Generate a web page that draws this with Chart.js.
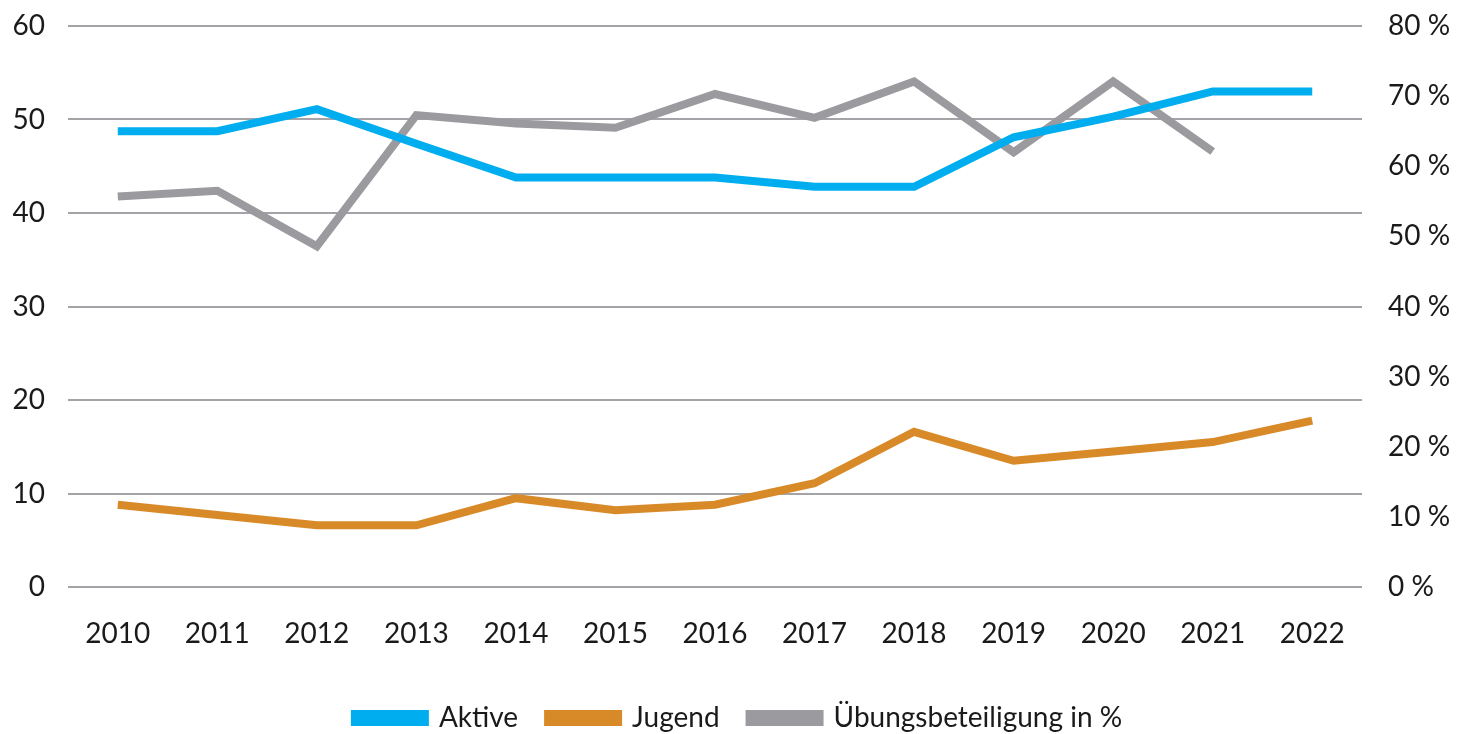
<!DOCTYPE html>
<html lang="de">
<head>
  <meta charset="UTF-8">
  <title>Aktive, Jugend, Übungsbeteiligung</title>
  <style>
    html, body { margin: 0; padding: 0; background: #fff; }
    #wrap { width: 1477px; height: 734px; position: relative; }
  </style>
</head>
<body>
  <div id="wrap"><canvas id="chart"></canvas></div>

  <script src="https://cdn.jsdelivr.net/npm/chart.js@4.4.1/dist/chart.umd.min.js"></script>
  <script>
    const years = ['2010', '2011', '2012', '2013', '2014', '2015', '2016', '2017', '2018', '2019', '2020', '2021', '2022'];
    const aktive = [48.75, 48.75, 51.1, 47.4, 43.8, 43.8, 43.8, 42.8, 42.8, 48.1, 50.3, 53.0, 53.0];
    const jugend = [8.8, 7.7, 6.6, 6.6, 9.5, 8.2, 8.8, 11.1, 16.6, 13.5, 14.5, 15.5, 17.8];
    const uebung = [55.7, 56.5, 48.6, 67.3, 66.1, 65.5, 70.3, 66.9, 72.1, 62.0, 72.1, 62.1, null];
    const leftTicks = [0, 10, 20, 30, 40, 50, 60];
    const rightTicks = [0, 10, 20, 30, 40, 50, 60, 70, 80];

    const font = { family: 'Lato', size: 28 };
    const textColor = '#1a1a1a';

    function line(label, data, color, axis) {
      return {
        label: label,
        data: data,
        yAxisID: axis,
        borderColor: color,
        backgroundColor: color,
        borderWidth: 8,
        pointRadius: 0,
        tension: 0,
        spanGaps: false
      };
    }

    // fixed axis size, no extra padding from the tick labels
    function fixWidth(w) {
      return axis => {
        axis.width = w;
        axis.paddingTop = 0;
        axis.paddingBottom = 0;
      };
    }

    new Chart(document.getElementById('chart'), {
      type: 'line',
      data: {
        labels: years,
        datasets: [
          line('Aktive', aktive, '#00aeef', 'y'),
          line('Jugend', jugend, '#d98a28', 'y'),
          line('Übungsbeteiligung in %', uebung, '#9b9b9f', 'y2')
        ]
      },
      options: {
        responsive: true,
        maintainAspectRatio: false,
        animation: false,
        layout: { padding: { left: 0, right: 0, top: 26, bottom: -8 } },
        plugins: {
          tooltip: { enabled: false },
          legend: {
            position: 'bottom',
            labels: {
              font: font,
              color: textColor,
              boxWidth: 70,
              boxHeight: 8,
              padding: 30
            }
          }
        },
        scales: {
          x: {
            offset: true,
            afterFit: axis => { axis.height = 87; },
            grid: { display: false },
            border: { display: false },
            ticks: { font: font, color: textColor, padding: 22, maxRotation: 0 }
          },
          y: {
            position: 'left',
            min: 0,
            max: 60,
            afterBuildTicks: axis => { axis.ticks = leftTicks.map(v => ({ value: v })); },
            afterFit: fixWidth(68),
            grid: { color: '#a4a4a8', lineWidth: 2, drawTicks: false },
            border: { display: false },
            ticks: { font: font, color: textColor, padding: 23 }
          },
          y2: {
            position: 'right',
            min: 0,
            max: 80,
            afterBuildTicks: axis => { axis.ticks = rightTicks.map(v => ({ value: v })); },
            afterFit: fixWidth(115),
            grid: { drawOnChartArea: false, drawTicks: false },
            border: { display: false },
            ticks: { font: font, color: textColor, padding: 26, callback: v => v + ' %' }
          }
        }
      }
    });
  </script>
</body>
</html>
